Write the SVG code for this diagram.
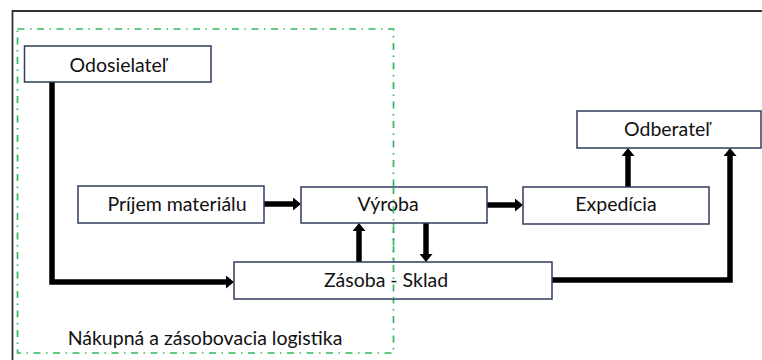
<svg xmlns="http://www.w3.org/2000/svg" width="762" height="360" viewBox="0 0 762 360">
<style>
.box{fill:#fff;stroke:#2f3d5e;stroke-width:1.5}
.lbl{font-family:Lato,"Liberation Sans",sans-serif;font-size:19.5px;fill:#111;text-anchor:middle}
.con{fill:none;stroke:#000;stroke-width:5.5;stroke-linejoin:miter}
.grn{fill:none;stroke:#2fb95e;stroke-width:1.7;stroke-dasharray:7 5.5 1.5 5.5}
</style>
<defs>
<marker id="ah" viewBox="0 0 8 13" refX="0" refY="6.5" markerWidth="8" markerHeight="13" orient="auto" markerUnits="userSpaceOnUse">
<path d="M0,0 L8,6.5 L0,13 z" fill="#000"/>
</marker>
</defs>
<rect width="762" height="360" fill="#fff"/>
<g id="frame">
<path d="M12.5,360 L12.5,11 L762,11" fill="none" stroke="#333" stroke-width="1.8"/>
</g>
<g id="zone">
<rect class="grn" x="17.5" y="29" width="376" height="324"/>
<text class="lbl" x="205" y="345">Nákupná a zásobovacia logistika</text>
</g>
<g id="connectors">
<path class="con" d="M52,82 L52,282 L226,282" marker-end="url(#ah)"/>
<path class="con" d="M264,204 L293,204" marker-end="url(#ah)"/>
<path class="con" d="M359,262 L359,231" marker-end="url(#ah)"/>
<path class="con" d="M426,223 L426,254" marker-end="url(#ah)"/>
<path class="con" d="M487,205 L515,205" marker-end="url(#ah)"/>
<path class="con" d="M628,187 L628,156" marker-end="url(#ah)"/>
<path class="con" d="M552,280 L730,280 L730,156" marker-end="url(#ah)"/>
</g>
<g id="odosielatel">
<rect class="box" x="24.5" y="46" width="186.5" height="36"/>
<text class="lbl" x="118" y="72">Odosielateľ</text>
</g>
<g id="prijem">
<rect class="box" x="78" y="186" width="186" height="37"/>
<text class="lbl" x="177" y="211">Príjem materiálu</text>
</g>
<g id="vyroba">
<rect class="box" x="301" y="187" width="186" height="36"/>
<text class="lbl" x="388" y="211">Výroba</text>
</g>
<g id="expedicia">
<rect class="box" x="523" y="187" width="186" height="37"/>
<text class="lbl" x="616" y="211">Expedícia</text>
</g>
<g id="odberatel">
<rect class="box" x="577" y="111" width="184" height="37"/>
<text class="lbl" x="667" y="136">Odberateľ</text>
</g>
<g id="zasoba">
<rect class="box" x="234" y="262" width="318" height="37"/>
<text class="lbl" x="386" y="287">Zásoba - Sklad</text>
</g>
<line class="grn" x1="393.5" y1="187" x2="393.5" y2="299"/>
</svg>
